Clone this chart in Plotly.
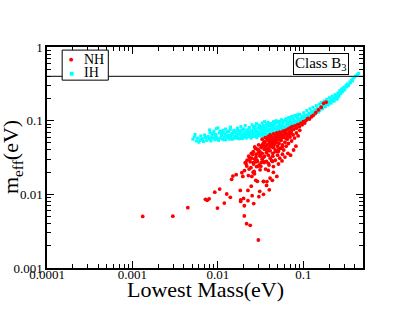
import plotly.graph_objects as go

# ---------------- data ----------------
ih_lowest_mass = [
    0.0051, 0.0053, 0.0056, 0.0058, 0.0060, 0.0062, 0.0063, 0.0066, 0.0068, 0.0070, 0.0072, 0.0074,
    0.0077, 0.0079, 0.0081, 0.0083, 0.0085, 0.0088, 0.0090, 0.0092, 0.0095, 0.0097, 0.0100, 0.0102,
    0.0104, 0.0107, 0.0110, 0.0113, 0.0115, 0.0118,
    0.0121, 0.0124, 0.0127, 0.0130, 0.0133, 0.0136, 0.0140, 0.0143, 0.0146, 0.0150, 0.0153, 0.0157,
    0.0160, 0.0164, 0.0168, 0.0172, 0.0176, 0.0180, 0.0184, 0.0188, 0.0192, 0.0196, 0.0199,
    0.0203, 0.0207, 0.0211, 0.0215, 0.0219, 0.0223, 0.0228, 0.0232, 0.0236, 0.0241, 0.0245, 0.0250,
    0.0255, 0.0260, 0.0265, 0.0270, 0.0275, 0.0280, 0.0286, 0.0292, 0.0298, 0.0304, 0.0310, 0.0316,
    0.0322, 0.0328, 0.0334, 0.0340, 0.0346,
    0.0352, 0.0356, 0.0362, 0.0368, 0.0375, 0.0382, 0.0389, 0.0396, 0.0403, 0.0410, 0.0418, 0.0426,
    0.0434, 0.0442, 0.0450, 0.0458, 0.0466, 0.0475, 0.0484, 0.0493, 0.0502, 0.0511, 0.0520, 0.0530,
    0.0540, 0.0550, 0.0560, 0.0570, 0.0580, 0.0590,
    0.0605, 0.0618, 0.0630, 0.0643, 0.0656, 0.0670, 0.0684, 0.0698, 0.0712, 0.0727, 0.0742, 0.0757,
    0.0773, 0.0789, 0.0805, 0.0822, 0.0839, 0.0856, 0.0874, 0.0892, 0.0910, 0.0929, 0.0948, 0.0968,
    0.0988,
    0.101, 0.103, 0.105, 0.108, 0.110, 0.112, 0.115, 0.117, 0.120, 0.122, 0.125, 0.128, 0.130, 0.133,
    0.136, 0.139, 0.142, 0.145, 0.148, 0.151, 0.154, 0.157,
    0.160, 0.164, 0.168, 0.172, 0.176, 0.180, 0.184, 0.188, 0.193, 0.198, 0.203, 0.208, 0.213, 0.218,
    0.224, 0.230, 0.236, 0.242, 0.248,
    0.254, 0.260, 0.267, 0.274, 0.281, 0.289, 0.297, 0.306, 0.316, 0.327, 0.338, 0.350, 0.365, 0.380,
    0.395, 0.410, 0.428, 0.445,
    0.0054, 0.0065, 0.0071, 0.0082, 0.0087, 0.0093, 0.0099, 0.0106, 0.0112, 0.0119,
    0.0125, 0.0132, 0.0138, 0.0145, 0.0152, 0.0159, 0.0166, 0.0174, 0.0182, 0.0190,
    0.0198, 0.0205, 0.0213, 0.0221, 0.0230, 0.0239, 0.0248, 0.0258, 0.0268, 0.0278,
    0.0289, 0.0300, 0.0312, 0.0324, 0.0337, 0.0350, 0.0364, 0.0378, 0.0393, 0.0408,
    0.0424, 0.0440, 0.0457, 0.0474, 0.0492, 0.0511, 0.0531, 0.0551, 0.0572, 0.0594,
    0.0617, 0.0641, 0.0666, 0.0692, 0.0718, 0.0746, 0.0775, 0.0805, 0.0836, 0.0868,
    0.0902, 0.0937, 0.0973, 0.1010, 0.105, 0.109, 0.113, 0.118, 0.123, 0.127,
    0.132, 0.138, 0.143, 0.149, 0.155, 0.161, 0.167, 0.174, 0.181, 0.188,
    0.196, 0.204, 0.212, 0.221, 0.230, 0.240, 0.250, 0.262, 0.275, 0.290,
    0.305, 0.322, 0.340, 0.358, 0.376,
    0.0148, 0.0171, 0.0194, 0.0217, 0.0243, 0.0262, 0.0284, 0.0307, 0.0331, 0.0358, 0.0385, 0.0415,
    0.0446, 0.0480, 0.0517, 0.0555, 0.0598, 0.0644, 0.0693, 0.0745, 0.0802, 0.0862, 0.0928, 0.0998,
    0.0080, 0.0089, 0.0096, 0.0108, 0.0116, 0.0123, 0.0134, 0.0141, 0.0155, 0.0162,
    0.0170, 0.0178, 0.0186, 0.0201, 0.0209, 0.0226, 0.0234, 0.0252, 0.0263, 0.0273,
    0.0283, 0.0295, 0.0306, 0.0319, 0.0331, 0.0343, 0.0355, 0.0371, 0.0386, 0.0400,
    0.0414, 0.0430, 0.0448, 0.0462, 0.0479, 0.0498, 0.0515, 0.0535, 0.0556, 0.0576,
    0.0600, 0.0625, 0.0650, 0.0677, 0.0705, 0.0733, 0.0762, 0.0795, 0.0830, 0.0865,
]
ih_meff = [
    0.056, 0.060, 0.053, 0.058, 0.051, 0.055, 0.062, 0.057, 0.052, 0.064, 0.059, 0.054,
    0.061, 0.056, 0.069, 0.053, 0.063, 0.058, 0.072, 0.055, 0.065, 0.060, 0.080, 0.054,
    0.068, 0.058, 0.063, 0.056, 0.074, 0.060,
    0.066, 0.055, 0.070, 0.059, 0.063, 0.056, 0.076, 0.061, 0.067, 0.057, 0.072, 0.062,
    0.058, 0.068, 0.074, 0.060, 0.065, 0.057, 0.071, 0.063, 0.059, 0.077, 0.066,
    0.060, 0.070, 0.064, 0.058, 0.074, 0.067, 0.061, 0.079, 0.069, 0.063, 0.058, 0.073,
    0.066, 0.082, 0.061, 0.070, 0.076, 0.064, 0.059, 0.072, 0.067, 0.085, 0.062, 0.078,
    0.070, 0.065, 0.081, 0.061, 0.074,
    0.097, 0.068, 0.080, 0.063, 0.073, 0.087, 0.066, 0.077, 0.070, 0.091, 0.064, 0.082,
    0.074, 0.069, 0.088, 0.078, 0.067, 0.095, 0.072, 0.084, 0.076, 0.069, 0.090, 0.081,
    0.073, 0.099, 0.086, 0.077, 0.092, 0.072,
    0.083, 0.101, 0.076, 0.090, 0.079, 0.108, 0.086, 0.095, 0.081, 0.112, 0.091, 0.084,
    0.102, 0.088, 0.118, 0.095, 0.089, 0.110, 0.099, 0.093, 0.122, 0.104, 0.097, 0.115,
    0.107,
    0.128, 0.103, 0.117, 0.110, 0.137, 0.115, 0.124, 0.109, 0.145, 0.121, 0.132, 0.118, 0.152, 0.128,
    0.139, 0.124, 0.160, 0.135, 0.146, 0.131, 0.168, 0.142,
    0.153, 0.176, 0.145, 0.162, 0.185, 0.157, 0.171, 0.195, 0.166, 0.182, 0.205, 0.176, 0.192, 0.215,
    0.186, 0.203, 0.226, 0.198, 0.216,
    0.238, 0.212, 0.255, 0.232, 0.270, 0.247, 0.285, 0.262, 0.300, 0.315, 0.298, 0.335, 0.352, 0.370,
    0.385, 0.405, 0.420, 0.438,
    0.065, 0.054, 0.060, 0.058, 0.067, 0.061, 0.056, 0.071, 0.066, 0.055,
    0.062, 0.072, 0.058, 0.065, 0.069, 0.060, 0.063, 0.057, 0.067, 0.074,
    0.062, 0.065, 0.060, 0.069, 0.064, 0.071, 0.060, 0.068, 0.063, 0.073,
    0.069, 0.064, 0.070, 0.075, 0.067, 0.072, 0.065, 0.084, 0.075, 0.068,
    0.078, 0.072, 0.081, 0.070, 0.077, 0.074, 0.086, 0.079, 0.075, 0.082,
    0.079, 0.088, 0.083, 0.092, 0.087, 0.096, 0.089, 0.099, 0.093, 0.104,
    0.097, 0.108, 0.101, 0.113, 0.107, 0.119, 0.112, 0.126, 0.118, 0.133,
    0.125, 0.140, 0.131, 0.148, 0.138, 0.157, 0.146, 0.166, 0.154, 0.175,
    0.163, 0.186, 0.173, 0.197, 0.184, 0.209, 0.196, 0.222, 0.236, 0.252,
    0.268, 0.287, 0.306, 0.326, 0.346,
    0.056, 0.058, 0.057, 0.060, 0.059, 0.062, 0.061, 0.063, 0.064, 0.066, 0.065, 0.068,
    0.067, 0.070, 0.071, 0.072, 0.074, 0.076, 0.078, 0.081, 0.083, 0.087, 0.090, 0.095,
    0.075, 0.067, 0.078, 0.072, 0.069, 0.077, 0.071, 0.082, 0.074, 0.070,
    0.079, 0.073, 0.083, 0.077, 0.086, 0.075, 0.081, 0.088, 0.078, 0.084,
    0.091, 0.080, 0.087, 0.083, 0.093, 0.086, 0.079, 0.090, 0.095, 0.085,
    0.092, 0.087, 0.097, 0.090, 0.100, 0.094, 0.098, 0.091, 0.103, 0.096,
    0.100, 0.106, 0.097, 0.110, 0.103, 0.114, 0.107, 0.117, 0.112, 0.121,
]

nh_lowest_mass = [
    0.00132, 0.00297, 0.00445, 0.00716, 0.0075, 0.0079, 0.0092, 0.0105, 0.0099, 0.0119, 0.0127,
    0.0140, 0.0145, 0.0150, 0.0164, 0.0183, 0.0185, 0.0185, 0.0200, 0.0204, 0.0204, 0.0217, 0.0239,
    0.0298,
    0.0225, 0.0225, 0.0246, 0.0252, 0.0263, 0.0278, 0.0290, 0.0302, 0.0309, 0.0342, 0.0342, 0.0372,
    0.0400, 0.0434, 0.0375,
    0.0191, 0.0196, 0.0250, 0.0266, 0.0284, 0.0312, 0.0342, 0.0209, 0.0218, 0.0239, 0.0262, 0.0278,
    0.0306, 0.0342, 0.0390, 0.0427, 0.0447, 0.0512, 0.0563, 0.0390, 0.0447, 0.0490, 0.0408,
    0.033, 0.035, 0.036, 0.038, 0.039, 0.040, 0.041, 0.042, 0.043, 0.044, 0.045, 0.046, 0.047, 0.048,
    0.049, 0.050, 0.051, 0.052, 0.053, 0.054, 0.055, 0.057, 0.058, 0.059, 0.061, 0.062, 0.064, 0.066,
    0.068, 0.070, 0.072, 0.074, 0.077, 0.080, 0.083, 0.086, 0.090, 0.093, 0.097, 0.100, 0.104, 0.108,
    0.113, 0.118, 0.125, 0.131, 0.140, 0.150, 0.162, 0.173, 0.185,
    0.026, 0.027, 0.028, 0.029, 0.030, 0.031, 0.032, 0.033, 0.034, 0.035, 0.036, 0.037, 0.038, 0.039,
    0.040, 0.041, 0.042, 0.043, 0.044, 0.045, 0.046, 0.047, 0.048, 0.050, 0.051, 0.052, 0.054, 0.055,
    0.057, 0.059, 0.061, 0.063, 0.065, 0.067, 0.070, 0.073, 0.076, 0.079, 0.083, 0.087, 0.091,
    0.022, 0.023, 0.025, 0.026, 0.028, 0.029, 0.031, 0.033, 0.035, 0.037, 0.039, 0.041, 0.044, 0.047,
    0.050, 0.053, 0.057, 0.061, 0.066, 0.071, 0.077, 0.082,
    0.0232, 0.0247, 0.0268, 0.0287, 0.0296, 0.0318, 0.0327, 0.0349, 0.0362, 0.0381, 0.0397, 0.0418,
    0.0436, 0.0455, 0.0472, 0.0493, 0.0516, 0.0538, 0.0566, 0.0591, 0.0623, 0.0655, 0.0688, 0.0724,
    0.0205, 0.0214, 0.0228, 0.0236, 0.0244, 0.0255, 0.0259, 0.0271, 0.0276, 0.0293,
    0.0301, 0.0314, 0.0322, 0.0336, 0.0345, 0.0356, 0.0367, 0.0379, 0.0391, 0.0404,
    0.0421, 0.0433, 0.0451, 0.0468, 0.0485, 0.0502, 0.0523, 0.0546, 0.0575, 0.0604,
]
nh_meff = [
    0.00502, 0.00505, 0.0066, 0.00855, 0.0083, 0.0087, 0.0107, 0.0118, 0.0065, 0.0076, 0.0101,
    0.0091, 0.0160, 0.0177, 0.0185, 0.0113, 0.0084, 0.0080, 0.0088, 0.0070, 0.0051, 0.0040, 0.0038,
    0.0024,
    0.0113, 0.0082, 0.0129, 0.0096, 0.0075, 0.0155, 0.0150, 0.0093, 0.0110, 0.0100, 0.0149, 0.0132,
    0.0115, 0.0155, 0.0149,
    0.0197, 0.0175, 0.0175, 0.0204, 0.0238, 0.0215, 0.0150, 0.0269, 0.0242, 0.0277, 0.0258, 0.0277,
    0.0250, 0.0277, 0.0264, 0.0287, 0.0238, 0.0258, 0.0284, 0.0211, 0.0199, 0.0175, 0.0166,
    0.056, 0.052, 0.059, 0.055, 0.061, 0.050, 0.064, 0.057, 0.060, 0.053, 0.066, 0.058, 0.062, 0.055,
    0.068, 0.060, 0.064, 0.057, 0.070, 0.062, 0.066, 0.059, 0.072, 0.064, 0.068, 0.074, 0.066, 0.077,
    0.070, 0.080, 0.073, 0.083, 0.076, 0.085, 0.079, 0.088, 0.083, 0.092, 0.088, 0.097, 0.093, 0.101,
    0.107, 0.105, 0.113, 0.118, 0.128, 0.140, 0.152, 0.172, 0.178,
    0.038, 0.044, 0.035, 0.041, 0.047, 0.038, 0.043, 0.036, 0.049, 0.041, 0.045, 0.037, 0.047, 0.042,
    0.053, 0.039, 0.046, 0.050, 0.036, 0.043, 0.048, 0.040, 0.052, 0.045, 0.038, 0.049, 0.042, 0.054,
    0.047, 0.040, 0.051, 0.045, 0.056, 0.049, 0.060, 0.053, 0.064, 0.058, 0.068, 0.062, 0.074,
    0.029, 0.033, 0.031, 0.027, 0.032, 0.028, 0.034, 0.030, 0.033, 0.028, 0.034, 0.031, 0.033, 0.029,
    0.034, 0.031, 0.035, 0.032, 0.036, 0.034, 0.040, 0.045,
    0.022, 0.036, 0.019, 0.029, 0.040, 0.024, 0.046, 0.027, 0.022, 0.039, 0.025, 0.045,
    0.028, 0.052, 0.038, 0.056, 0.041, 0.060, 0.044, 0.063, 0.058, 0.062, 0.065, 0.068,
    0.021, 0.026, 0.018, 0.031, 0.023, 0.035, 0.020, 0.030, 0.042, 0.024,
    0.037, 0.033, 0.027, 0.045, 0.032, 0.050, 0.041, 0.055, 0.047, 0.059,
    0.044, 0.054, 0.048, 0.057, 0.051, 0.062, 0.055, 0.065, 0.060, 0.070,
]

meff_bound = 0.4
x_tick_vals = [0.0001, 0.001, 0.01, 0.1]
x_tick_text = ["0.0001", "0.001", "0.01", "0.1"]
y_tick_vals = [0.001, 0.01, 0.1, 1]
y_tick_text = ["0.001", "0.01", "0.1", "1"]
series_names = ["NH", "IH"]
series_colors = ["#ff0000", "#00ffff"]

# minor log ticks (2..9 in each decade)
x_minor = [k * 10.0 ** d for d in range(-4, 0) for k in range(2, 10) if k * 10.0 ** d <= 0.5]
y_minor = [k * 10.0 ** d for d in range(-3, 0) for k in range(2, 10)]

FONT = "Liberation Serif, Times New Roman, Times, DejaVu Serif, serif"

fig = go.Figure()
fig.add_trace(go.Scatter(
    x=ih_lowest_mass, y=ih_meff, mode="markers", name=series_names[1], showlegend=False,
    marker=dict(color=series_colors[1], size=3.0, symbol="square", line=dict(width=0)),
))
fig.add_trace(go.Scatter(
    x=nh_lowest_mass, y=nh_meff, mode="markers", name=series_names[0], showlegend=False,
    marker=dict(color=series_colors[0], size=3.8, symbol="circle", line=dict(width=0)),
))

# horizontal bound line
fig.add_shape(type="line", xref="paper", yref="y", x0=0, x1=1, y0=meff_bound, y1=meff_bound,
              line=dict(color="black", width=1))

# legend box (drawn compactly, as in the reference)
fig.add_shape(type="rect", xref="paper", yref="paper", x0=0.048, x1=0.194, y0=0.850, y1=0.986,
              line=dict(color="black", width=1), fillcolor="white", layer="above")
for i, (nm, col) in enumerate(zip(series_names, series_colors)):
    yy = 0.944 - i * 0.060
    fig.add_annotation(text="●" if i == 0 else "■", xref="paper", yref="paper", x=0.078, y=yy,
                       xanchor="center", yanchor="middle", showarrow=False,
                       font=dict(family="DejaVu Sans", size=5, color=col))
    fig.add_annotation(text=nm, xref="paper", yref="paper", x=0.112, y=yy,
                       xanchor="left", yanchor="middle", showarrow=False,
                       font=dict(family=FONT, size=14, color="black"))

fig.add_annotation(text="Class B<sub>3</sub>", xref="paper", yref="paper", x=0.956, y=0.974,
                   xanchor="right", yanchor="top", showarrow=False,
                   font=dict(family=FONT, size=15, color="black"),
                   bordercolor="black", borderwidth=1, borderpad=1, bgcolor="white")

# axis titles
fig.add_annotation(text="Lowest Mass(eV)", xref="paper", yref="paper", x=0.5, y=-0.097,
                   xanchor="center", yanchor="middle", showarrow=False,
                   font=dict(family=FONT, size=22, color="black"))
fig.add_annotation(text="m<sub>eff</sub>(eV)", xref="paper", yref="paper", x=-0.112, y=0.5,
                   xanchor="center", yanchor="middle", showarrow=False, textangle=-90,
                   font=dict(family=FONT, size=22, color="black"))

axis_common = dict(
    type="log", showgrid=False, zeroline=False, showline=True, linecolor="black", linewidth=1.5,
    mirror="ticks", ticks="inside", ticklen=7, tickwidth=1, tickcolor="black",
    tickfont=dict(family=FONT, size=13, color="black"), automargin=False,
)
fig.update_xaxes(
    **axis_common, range=[-4, -0.301], tickvals=x_tick_vals, ticktext=x_tick_text,
    ticklabelstandoff=-6,
    minor=dict(tickvals=x_minor, ticks="inside", ticklen=4, tickcolor="black", tickwidth=1),
)
fig.update_yaxes(
    **axis_common, range=[-3, 0], tickvals=y_tick_vals, ticktext=y_tick_text,
    minor=dict(tickvals=y_minor, ticks="inside", ticklen=4, tickcolor="black", tickwidth=1),
)

fig.update_layout(
    width=409, height=316, margin=dict(l=47, r=46, t=47, b=48, autoexpand=False),
    paper_bgcolor="white", plot_bgcolor="white",
    font=dict(family=FONT, color="black"),
    showlegend=False,
)

fig.write_html("out.html", config={"displayModeBar": False},
               post_script="document.body.style.margin='0px';")
